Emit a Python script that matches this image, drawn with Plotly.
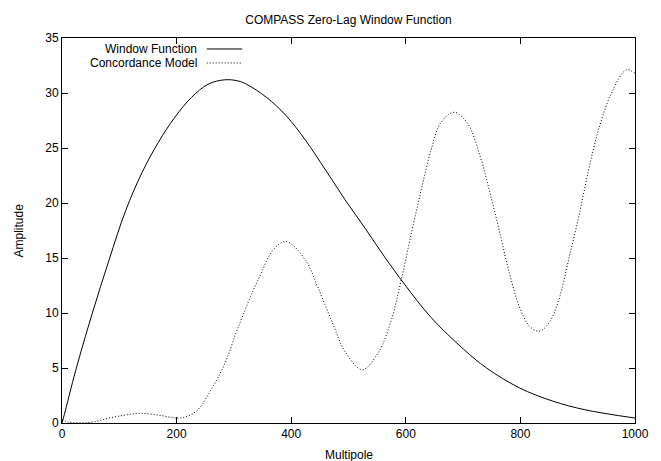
import plotly.graph_objects as go

# Window function
wf_l = [0, 4, 24, 53, 82, 111, 140, 168, 197, 226, 255, 284, 307, 322, 357, 391, 425, 460, 494, 529, 563, 598, 644, 701, 741, 798, 856, 913, 1000]
wf_a = [0, 0.75, 4.8, 10.0, 14.8, 19.3, 22.8, 25.5, 27.8, 29.6, 30.8, 31.2, 31.1, 30.8, 29.6, 27.95, 25.7, 23.0, 20.3, 17.7, 15.1, 12.6, 9.6, 6.7, 5.0, 3.2, 2.0, 1.2, 0.45]

# Concordance model
cm_l = [0, 10, 30, 55, 82, 110, 136, 170, 200, 218, 237, 260, 284, 306, 334, 345, 368, 391, 425, 446, 472, 495, 524, 552, 575, 592, 610, 627, 644, 661, 684, 707, 730, 747, 764, 781, 798, 816, 833, 850, 867, 884, 902, 919, 936, 959, 985, 1000]
cm_a = [0.3, 0.1, 0.02, 0.1, 0.45, 0.72, 0.88, 0.7, 0.45, 0.6, 1.2, 3.0, 5.4, 8.5, 12.1, 13.3, 15.7, 16.5, 14.8, 12.4, 9.1, 6.4, 4.85, 6.4, 9.4, 13.0, 17.3, 21.2, 24.8, 27.3, 28.25, 27.3, 24.2, 20.9, 17.3, 13.6, 10.6, 8.8, 8.35, 9.1, 11.2, 14.8, 18.8, 23.0, 26.6, 30.0, 32.1, 31.8]

x_ticks = [0, 200, 400, 600, 800, 1000]
y_ticks = [0, 5, 10, 15, 20, 25, 30, 35]

font = dict(family="Liberation Sans, Arial, sans-serif", size=12, color="black")

fig = go.Figure()
fig.add_trace(go.Scatter(x=wf_l, y=wf_a, mode="lines", line=dict(color="black", width=1, shape="spline"),
                         name="Window Function", showlegend=False))
fig.add_trace(go.Scatter(x=cm_l, y=cm_a, mode="lines", line=dict(color="black", width=1, dash="1px,2px", shape="spline"),
                         name="Concordance Model", showlegend=False))

fig.update_layout(
    width=661, height=461,
    margin=dict(l=62, r=17, t=38, b=37.5),
    paper_bgcolor="white", plot_bgcolor="white",
    font=font,
    showlegend=False,
    title=dict(text="COMPASS Zero-Lag Window Function", x=0.5, xref="paper", xanchor="center",
               y=1, yref="paper", yanchor="bottom", pad=dict(b=14), font=font),
)
axis_common = dict(showgrid=False, zeroline=False, showline=True, linecolor="black", linewidth=1,
                   mirror="ticks", ticks="inside", ticklen=6, tickcolor="black", tickwidth=1,
                   tickfont=font)
fig.update_xaxes(range=[0, 1000], tickvals=x_ticks, ticktext=[str(v) for v in x_ticks], **axis_common)
fig.update_yaxes(range=[0, 35], tickvals=y_ticks, ticktext=[str(v) for v in y_ticks], **axis_common)

# Axis titles
fig.add_annotation(text="Multipole", xref="paper", yref="paper", x=0.5, y=0, yshift=-32,
                   showarrow=False, xanchor="center", yanchor="middle", font=font)
fig.add_annotation(text="Amplitude", xref="paper", yref="paper", x=0, y=0.5, xshift=-44,
                   showarrow=False, textangle=-90, xanchor="center", yanchor="middle", font=font)

# Gnuplot-style key: text then sample
pw = 661 - 62 - 17
ph = 461 - 38 - 37.5
key_text_x = 138 / pw
key_rows = [("Window Function", "solid", 1 - 11 / ph), ("Concordance Model", "1px,2px", 1 - 25 / ph)]
for label, dash, ky in key_rows:
    fig.add_annotation(text=label, xref="paper", yref="paper", x=key_text_x, y=ky,
                       showarrow=False, xanchor="right", yanchor="middle", font=font, borderpad=0)
    fig.add_shape(type="line", xref="paper", yref="paper", x0=147 / pw, x1=183 / pw, y0=ky, y1=ky,
                  line=dict(color="black", width=1, dash=dash))

fig.write_html("out.html")
